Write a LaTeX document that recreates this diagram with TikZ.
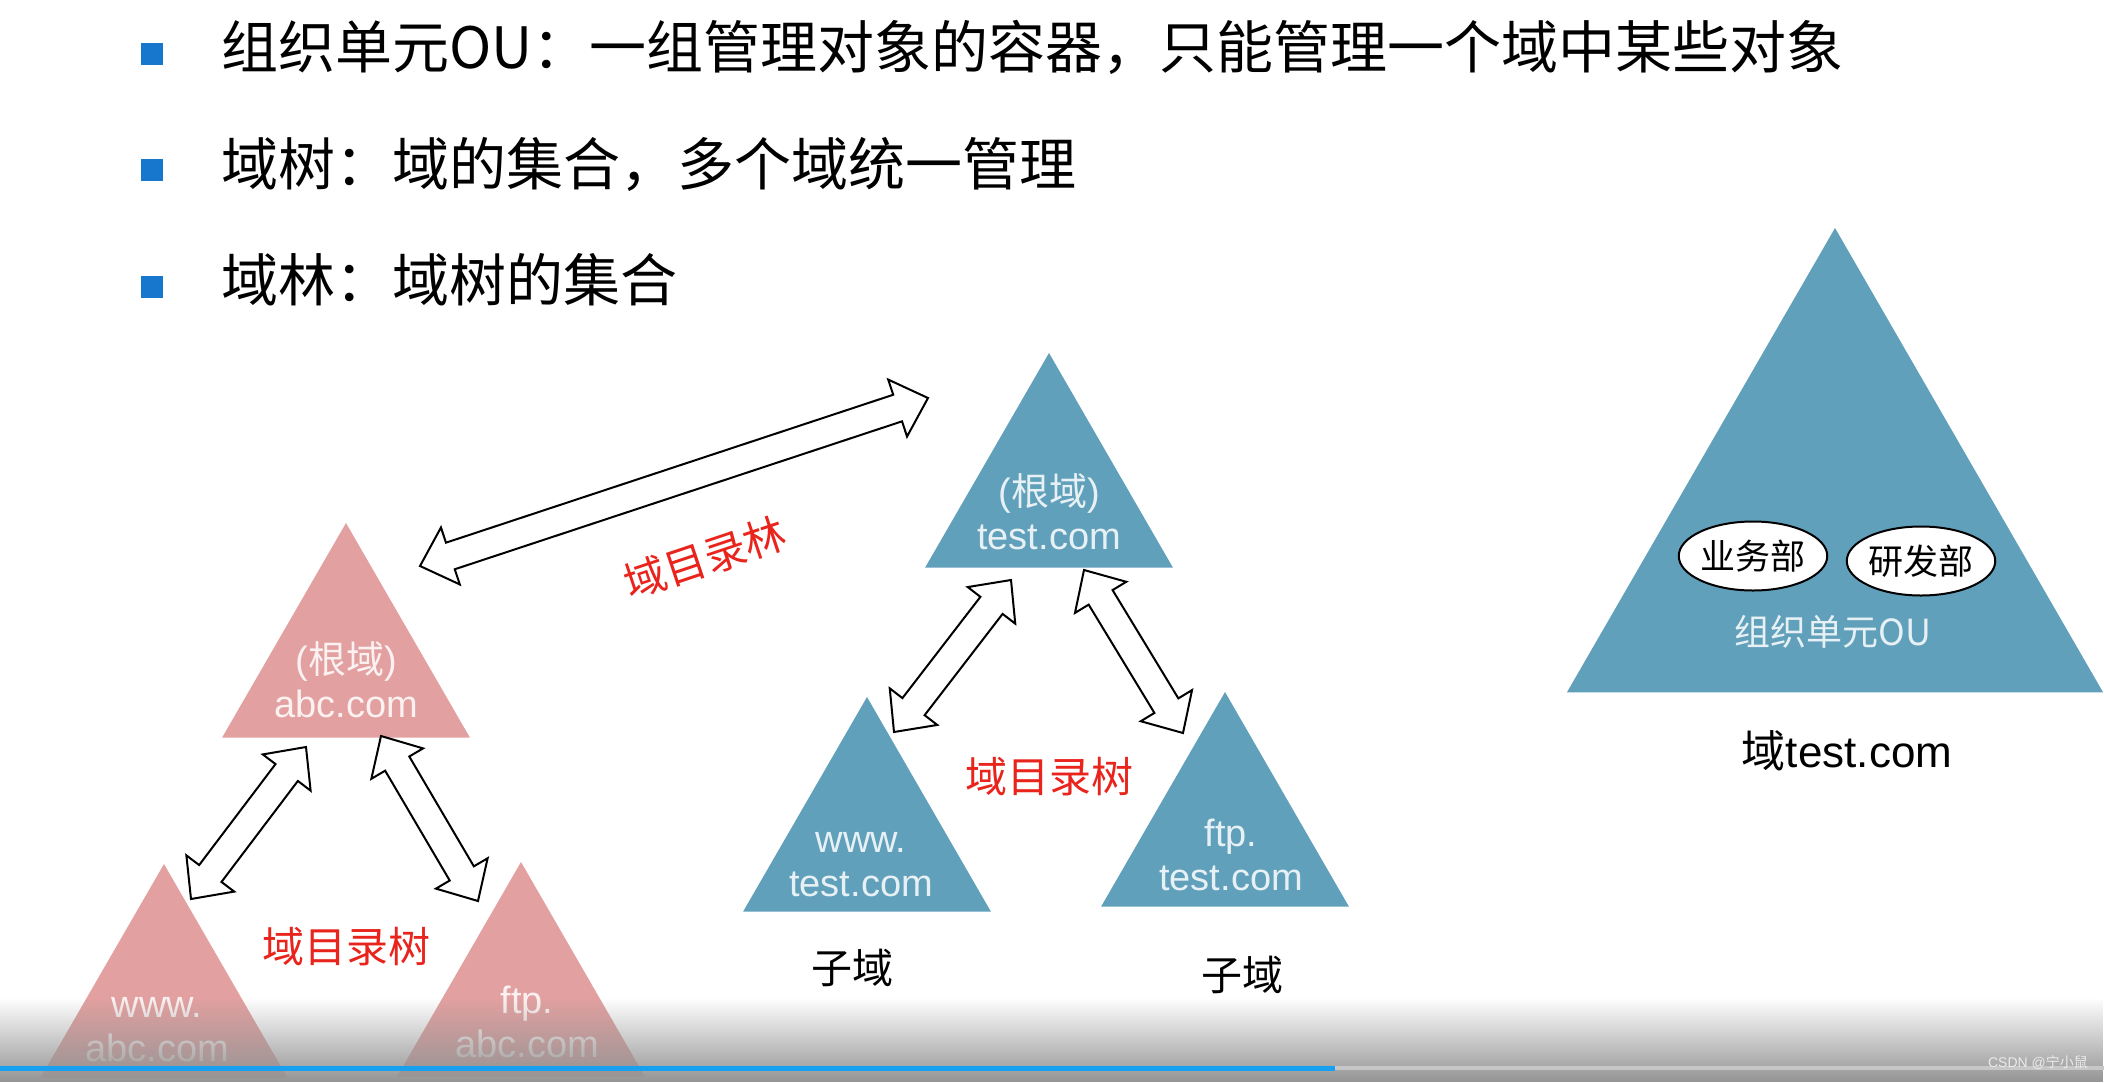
\documentclass[tikz,border=0pt]{standalone}
\usepackage{fontspec}
\setmainfont{Liberation Sans}
\newfontfamily\cjk{Noto Sans CJK SC}
\usetikzlibrary{calc,shapes.geometric,fadings}
\definecolor{pinkclr}{RGB}{226,160,160}
\definecolor{blueclr}{RGB}{96,160,186}
\definecolor{bulletclr}{RGB}{23,119,204}
\definecolor{labelclr}{RGB}{232,36,28}
\definecolor{barclr}{RGB}{24,160,240}
\tikzset{
  dom/.style={regular polygon, regular polygon sides=3, inner sep=0pt, minimum size=143pt},
  pinkdom/.style={dom, fill=pinkclr},
  bluedom/.style={dom, fill=blueclr},
  domtext/.style={align=center, inner sep=0pt, font=\fontsize{19}{22}\selectfont},
  pinktext/.style={domtext, text=white!85!pinkclr},
  bluetext/.style={domtext, text=white!85!blueclr},
  redlabel/.style={inner sep=0pt, text=labelclr, font=\cjk\fontsize{21}{24}\selectfont},
  blacklabel/.style={inner sep=0pt, font=\cjk\fontsize{20.5}{24}\selectfont},
  dept/.style={ellipse, draw=black, fill=white, line width=1pt, inner sep=0pt,
    minimum height=34.5pt, font=\cjk\fontsize{17.5}{20}\selectfont},
  outlinearrow/.style={draw=black, fill=white, line width=1pt, line join=miter},
  bullet/.style={fill=bulletclr, minimum size=11pt, inner sep=0pt},
  titletext/.style={anchor=west, inner sep=0pt, font=\cjk\fontsize{28.5}{34}\selectfont}
}
% double block arrow from #1 to #2
\newcommand{\linkarrow}[2]{%
  \draw[outlinearrow]
    (#1) -- ($(#1)!16pt!(#2)!15pt!90:(#2)$) -- ($(#1)!16pt!(#2)!7pt!90:(#2)$)
    -- ($(#2)!16pt!(#1)!7pt!-90:(#1)$) -- ($(#2)!16pt!(#1)!15pt!-90:(#1)$)
    -- (#2) -- ($(#2)!16pt!(#1)!15pt!90:(#1)$) -- ($(#2)!16pt!(#1)!7pt!90:(#1)$)
    -- ($(#1)!16pt!(#2)!7pt!-90:(#2)$) -- ($(#1)!16pt!(#2)!15pt!-90:(#2)$) -- cycle;}
\begin{document}
\begin{tikzpicture}[x=0.5pt,y=-0.5pt]
\fill[white] (0,0) rectangle (2104,1082);
\useasboundingbox (0,0) rectangle (2104,1082);

\node[bullet] (b1) at (152,53.5) {};
\node[titletext] (t1) at (221,47.5) {组织单元OU：一组管理对象的容器，只能管理一个域中某些对象};
\node[bullet] (b2) at (152,170) {};
\node[titletext] (t2) at (221,164) {域树：域的集合，多个域统一管理};
\node[bullet] (b3) at (152,286.5) {};
\node[titletext] (t3) at (221,280) {域林：域树的集合};

% tree abc.com
\node[pinkdom] (abcroot) at (346,666) {};
\node[pinkdom] (abcwww) at (164,1007) {};
\node[pinkdom] (abcftp) at (521,1005) {};
\node[pinktext] (abcroottxt) at (346,680) {({\cjk 根域})\\abc.com};
\node[pinktext] (abcwwwtxt) at (157,1030) {www.\\abc.com};
\node[pinktext] (abcftptxt) at (527,1022) {ftp.\\abc.com};
\node[redlabel] (abctree) at (346,947) {域目录树};

% tree test.com
\node[bluedom] (testroot) at (1049,496) {};
\node[bluedom] (testwww) at (867,840) {};
\node[bluedom] (testftp) at (1225,835) {};
\node[bluetext] (testroottxt) at (1049,512) {({\cjk 根域})\\test.com};
\node[bluetext] (testwwwtxt) at (861,865) {www.\\test.com};
\node[bluetext] (testftptxt) at (1231,855) {ftp.\\test.com};
\node[redlabel] (testtree) at (1049,777) {域目录树};
\node[blacklabel] (subwww) at (852,968) {子域};
\node[blacklabel] (subftp) at (1242,975) {子域};

\node[redlabel, rotate=18.5] (forestlbl) at (705,558) {域目录林};

% arrows
\coordinate (forestL) at (420,566);
\coordinate (forestR) at (928,398);
\coordinate (abcA) at (306,747);
\coordinate (abcB) at (191,899);
\coordinate (abcC) at (381,736);
\coordinate (abcD) at (478,901);
\coordinate (testA) at (1011,580);
\coordinate (testB) at (894,732);
\coordinate (testC) at (1084,570);
\coordinate (testD) at (1183,733);
\linkarrow{forestL}{forestR}
\linkarrow{abcA}{abcB}
\linkarrow{abcC}{abcD}
\linkarrow{testA}{testB}
\linkarrow{testC}{testD}

% organizational unit
\node[dom, fill=blueclr, minimum size=309.5pt] (oudom) at (1835,537.5) {};
\node[dept, minimum width=65pt] (yewu) at (1753,556) {业务部};
\node[dept, minimum width=67pt] (yanfa) at (1921,561) {研发部};
\node[inner sep=0pt, text=white!85!blueclr, font=\cjk\fontsize{18}{20}\selectfont] (oulbl) at (1833,632) {组织单元OU};
\node[inner sep=0pt, font=\fontsize{22}{26}\selectfont] (domlbl) at (1847,751) {{\cjk 域}test.com};

% player bar
\fill[black!42, path fading=north] (0,998) rectangle (2104,1082);
\fill[white!78!black] (1335,1066) rectangle (2104,1070);
\fill[barclr] (0,1065.5) rectangle (1335,1070.5);
\node[inner sep=0pt, text=white!92!black, font=\fontsize{7}{8}\selectfont] (mark) at (2038,1063) {CSDN @{\cjk 宁小鼠}};
\end{tikzpicture}
\end{document}
